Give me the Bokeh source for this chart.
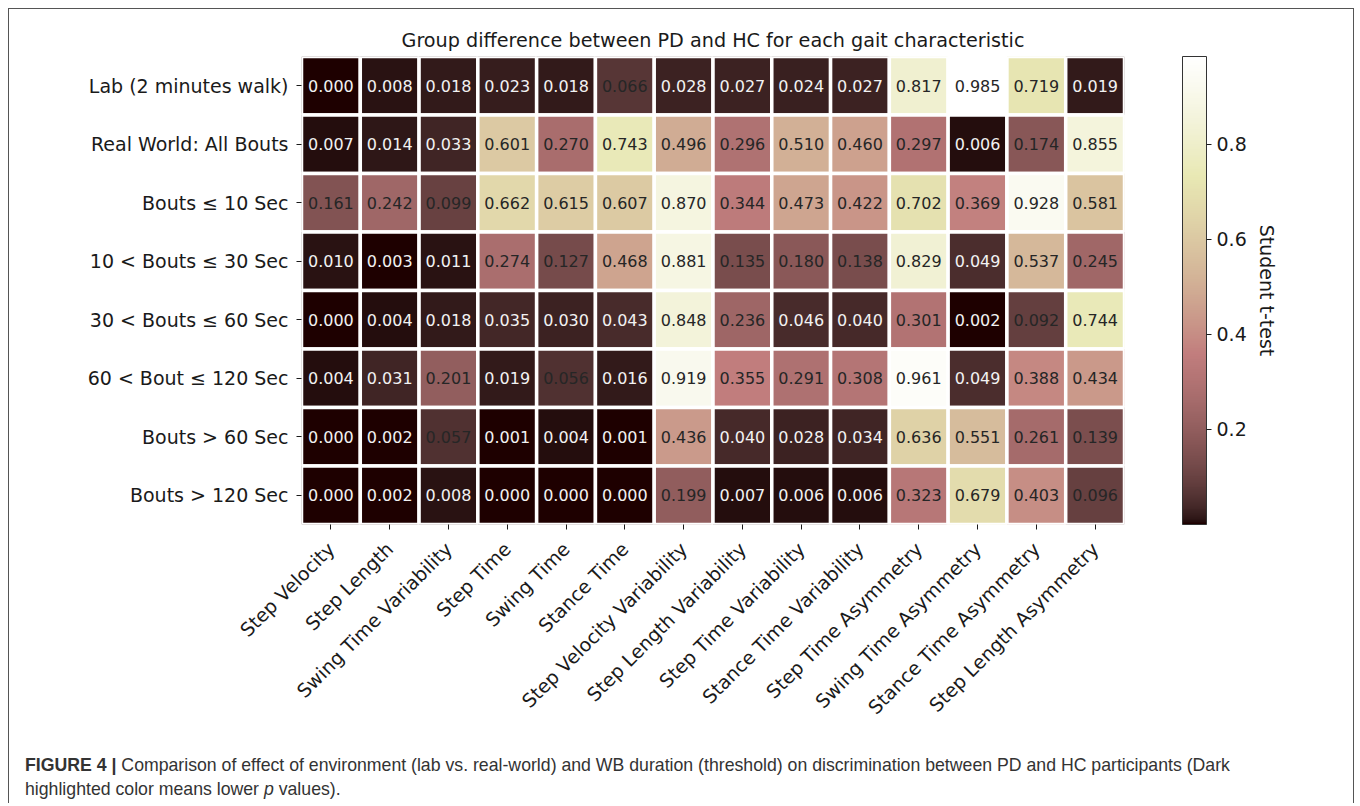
import math
import numpy as np
from bokeh.plotting import figure
from bokeh.layouts import column
from bokeh.models import (ColumnDataSource, LinearColorMapper, ColorBar, FixedTicker,
                          FactorRange, LinearAxis, Div)
from bokeh.transform import transform
from bokeh.core.properties import value
from bokeh.embed import file_html
from bokeh.resources import INLINE

# ---------------- data ----------------
title_text = "Group difference between PD and HC for each gait characteristic"

rows = [
    "Lab (2 minutes walk)",
    "Real World: All Bouts",
    "Bouts \u2264 10 Sec",
    "10 < Bouts \u2264 30 Sec",
    "30 < Bouts \u2264 60 Sec",
    "60 < Bout \u2264 120 Sec",
    "Bouts > 60 Sec",
    "Bouts > 120 Sec",
]

cols = [
    "Step Velocity", "Step Length", "Swing Time Variability", "Step Time",
    "Swing Time", "Stance Time", "Step Velocity Variability",
    "Step Length Variability", "Step Time Variability", "Stance Time Variability",
    "Step Time Asymmetry", "Swing Time Asymmetry", "Stance Time Asymmetry",
    "Step Length Asymmetry",
]

lab_2min       = [0.000, 0.008, 0.018, 0.023, 0.018, 0.066, 0.028, 0.027, 0.024, 0.027, 0.817, 0.985, 0.719, 0.019]
real_world_all = [0.007, 0.014, 0.033, 0.601, 0.270, 0.743, 0.496, 0.296, 0.510, 0.460, 0.297, 0.006, 0.174, 0.855]
bouts_le_10    = [0.161, 0.242, 0.099, 0.662, 0.615, 0.607, 0.870, 0.344, 0.473, 0.422, 0.702, 0.369, 0.928, 0.581]
bouts_10_30    = [0.010, 0.003, 0.011, 0.274, 0.127, 0.468, 0.881, 0.135, 0.180, 0.138, 0.829, 0.049, 0.537, 0.245]
bouts_30_60    = [0.000, 0.004, 0.018, 0.035, 0.030, 0.043, 0.848, 0.236, 0.046, 0.040, 0.301, 0.002, 0.092, 0.744]
bouts_60_120   = [0.004, 0.031, 0.201, 0.019, 0.056, 0.016, 0.919, 0.355, 0.291, 0.308, 0.961, 0.049, 0.388, 0.434]
bouts_gt_60    = [0.000, 0.002, 0.057, 0.001, 0.004, 0.001, 0.436, 0.040, 0.028, 0.034, 0.636, 0.551, 0.261, 0.139]
bouts_gt_120   = [0.000, 0.002, 0.008, 0.000, 0.000, 0.000, 0.199, 0.007, 0.006, 0.006, 0.323, 0.679, 0.403, 0.096]

row_values = [lab_2min, real_world_all, bouts_le_10, bouts_10_30,
              bouts_30_60, bouts_60_120, bouts_gt_60, bouts_gt_120]

colorbar_ticks = [0.2, 0.4, 0.6, 0.8]
colorbar_label = "Student t-test"
significance = 0.05

caption_bold = "FIGURE 4 |"
caption_line1 = ("Comparison of effect of environment (lab vs. real-world) and WB duration "
                 "(threshold) on discrimination between PD and HC participants (Dark")
caption_line2a = "highlighted color means lower"
caption_line2b = "p"
caption_line2c = "values)."

# ---------------- colormap (matplotlib "pink") ----------------
def pink_palette(n=256):
    x = np.linspace(0.0, 1.0, n)
    hot_r = np.interp(x, [0, 0.365079, 1], [0.0416, 1, 1])
    hot_g = np.interp(x, [0, 0.365079, 0.746032, 1], [0, 0, 1, 1])
    hot_b = np.interp(x, [0, 0.746032, 1], [0, 0, 1])
    r = np.sqrt((2 * x + hot_r) / 3)
    g = np.sqrt((2 * x + hot_g) / 3)
    b = np.sqrt((2 * x + hot_b) / 3)
    return ["#%02x%02x%02x" % (int(round(rr * 255)), int(round(gg * 255)), int(round(bb * 255)))
            for rr, gg, bb in zip(r, g, b)]

palette = pink_palette()
all_vals = [v for rv in row_values for v in rv]
mapper = LinearColorMapper(palette=palette, low=min(all_vals), high=max(all_vals))

# ---------------- source ----------------
xs, ys, vals, labels, tcolors = [], [], [], [], []
for r, rv in zip(rows, row_values):
    for c, v in zip(cols, rv):
        xs.append(c)
        ys.append(r)
        vals.append(v)
        labels.append("%.3f" % v)
        tcolors.append("#f2f2f2" if v < significance else "#262626")
src = ColumnDataSource(dict(col=xs, row=ys, val=vals, label=labels, tcolor=tcolors))

# ---------------- heatmap figure ----------------
FONT = "DejaVu Sans"
W = 1344
H_MAIN = 726
p = figure(
    width=W, height=H_MAIN,
    x_range=FactorRange(factors=cols, range_padding=0),
    y_range=FactorRange(factors=rows[::-1], range_padding=0),
    output_backend="svg", toolbar_location=None,
    min_border_left=292, min_border_right=229,
    min_border_top=47, min_border_bottom=211,
)

p.rect(x="col", y="row", width=1, height=1, source=src,
       fill_color=transform("val", mapper), line_color="white", line_width=3.5)
p.text(x="col", y="row", text="label", source=src,
       text_align="center", text_baseline="middle",
       text_font=value(FONT), text_font_size="16px", text_color="tcolor")

p.title.text = title_text
p.title.align = "center"
p.title.text_font = FONT
p.title.text_font_size = "19.2px"
p.title.text_font_style = "normal"
p.title.text_color = "#1a1a1a"

p.grid.grid_line_color = None
p.outline_line_color = None
for ax in (p.xaxis, p.yaxis):
    ax.axis_line_color = None
    ax.major_tick_in = 0
    ax.major_tick_out = 5
    ax.major_tick_line_color = "#1a1a1a"
    ax.minor_tick_line_color = None
    ax.major_label_text_font = FONT
    ax.major_label_text_font_size = "19px"
    ax.major_label_text_color = "#1a1a1a"
p.xaxis.major_label_orientation = math.pi / 4
p.xaxis.major_label_standoff = 16
p.yaxis.major_label_standoff = 8

cb = ColorBar(
    color_mapper=mapper, ticker=FixedTicker(ticks=colorbar_ticks),
    location=(881, 0), width=24, height=468, padding=0, margin=0,
    major_label_text_font=FONT, major_label_text_font_size="19px",
    major_label_text_color="#1a1a1a",
    major_tick_in=0, major_tick_out=5, major_tick_line_color="#1a1a1a",
    minor_tick_line_color=None, bar_line_color="#333333", bar_line_width=1,
    label_standoff=5, background_fill_color=None, border_line_color=None,
)
p.add_layout(cb)

# colour-bar label, carried by a right-hand axis that has no ticks at all
cb_axis = LinearAxis(ticker=FixedTicker(ticks=[]), axis_label=colorbar_label,
                     axis_line_color=None, major_tick_line_color=None,
                     minor_tick_line_color=None, major_tick_out=0, major_tick_in=0,
                     major_label_standoff=0, axis_label_standoff=131,
                     axis_label_text_font=FONT, axis_label_text_font_size="19px",
                     axis_label_text_font_style="normal", axis_label_text_color="#1a1a1a")
p.add_layout(cb_axis, "right")

# ---------------- caption ----------------
caption_html = (
    '<div style="padding:18px 0 0 16px; font-family:\'Liberation Sans\', Arial, sans-serif; '
    'font-size:17.7px; line-height:24px; color:#333333; white-space:nowrap;">'
    '<b>%s</b> %s<br>%s <i>%s</i> %s</div>'
    % (caption_bold, caption_line1, caption_line2a, caption_line2b, caption_line2c)
)
cap = Div(text=caption_html, width=W, height=68, margin=0)

layout = column(p, cap, spacing=0)
layout.styles = {"margin-left": "8px", "margin-top": "8px",
                 "border-left": "1px solid #555555", "border-top": "1px solid #555555",
                 "border-right": "1px solid #555555"}

open("out.html", "w").write(file_html(layout, INLINE))
